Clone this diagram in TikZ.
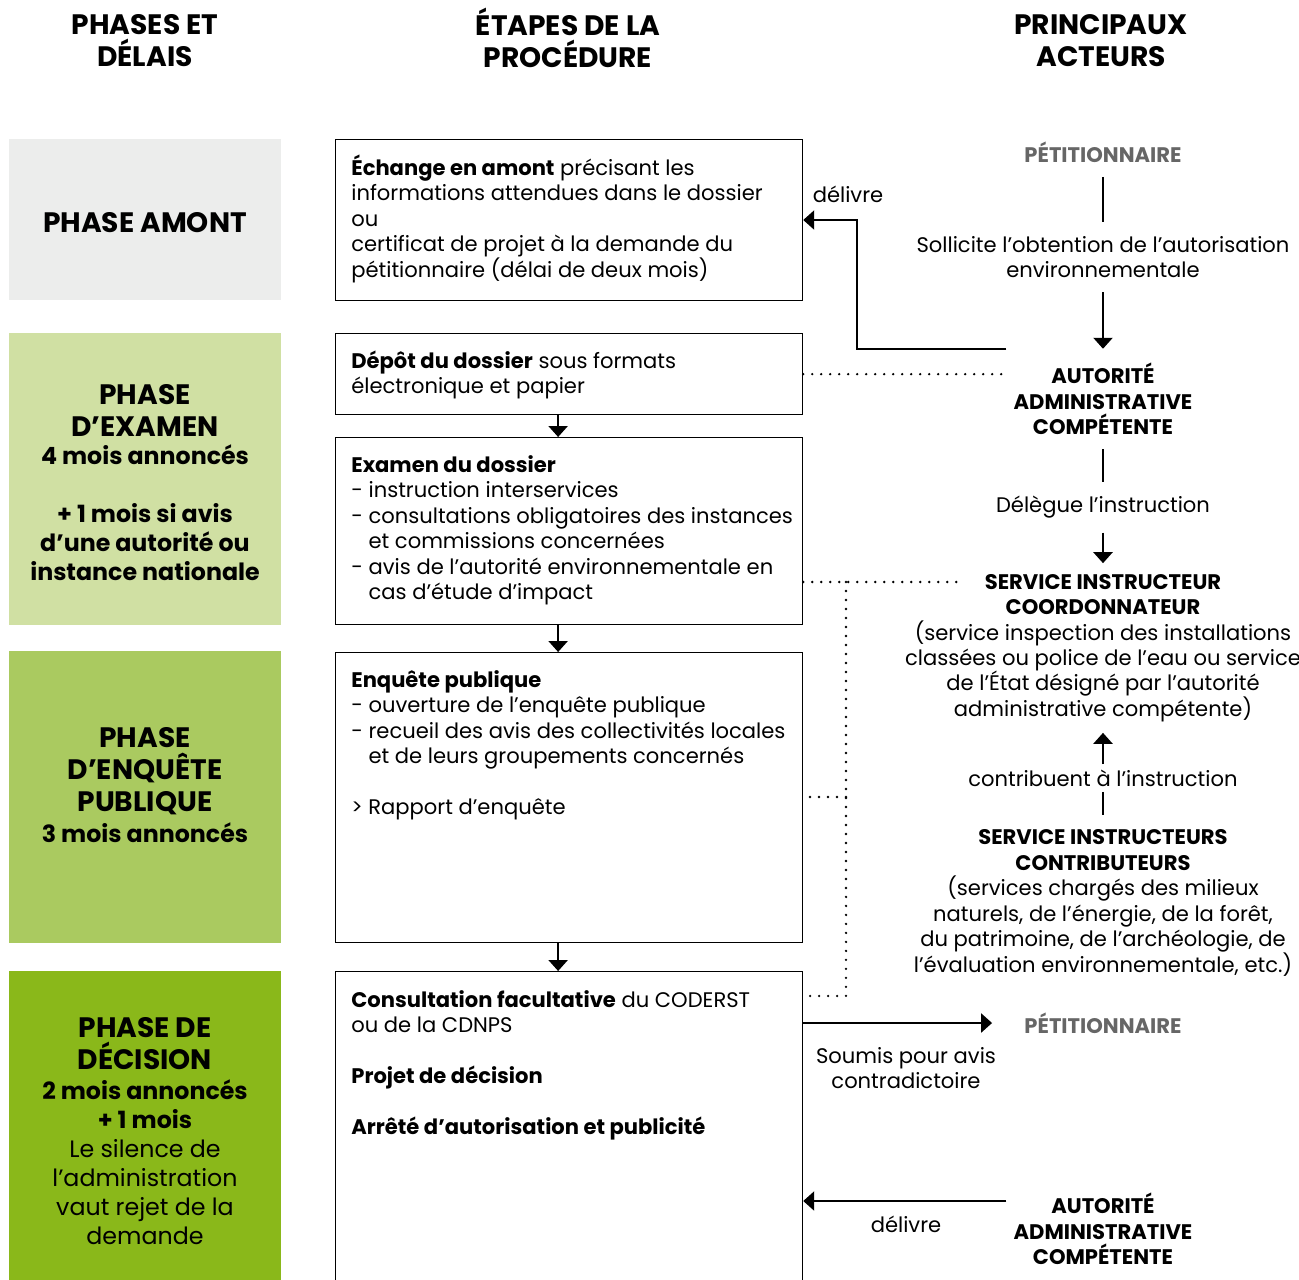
\documentclass[tikz,border=0pt]{standalone}
\usepackage{fontspec}
\setmainfont{Poppins}
\usetikzlibrary{arrows.meta,calc}

\definecolor{amont}{RGB}{236,237,236}
\definecolor{examen}{RGB}{208,224,163}
\definecolor{enquete}{RGB}{170,202,96}
\definecolor{decision}{RGB}{138,184,26}
\definecolor{gris}{RGB}{102,102,102}

\newcommand{\haut}{\rule{0pt}{12pt}}

\begin{document}
\begin{tikzpicture}[x=0.02cm, y=-0.02cm,
	head/.style={font=\fontsize{16}{18.2}\selectfont\bfseries, align=center, inner sep=0pt},
	phase/.style={anchor=north west, minimum width=5.44cm, inner sep=0pt},
	ptitle/.style={font=\fontsize{16}{18.2}\selectfont\bfseries, align=center, inner sep=0pt},
	psub/.style={font=\fontsize{13.5}{16.5}\selectfont, align=center, inner sep=0pt},
	psubgras/.style={font=\fontsize{13.5}{16.5}\selectfont\bfseries, align=center, inner sep=0pt},
	etape/.style={draw, line width=0.75pt, anchor=north west, minimum width=9.34cm, inner sep=0pt},
	txt/.style={font=\fontsize{12}{14.5}\selectfont, align=left, anchor=north west, inner sep=0pt},
	acteur/.style={font=\fontsize{12}{14.5}\selectfont, align=center, inner xsep=4pt, inner ysep=8pt},
	acteurgras/.style={font=\fontsize{12}{14.5}\selectfont\bfseries, align=center, inner xsep=4pt, inner ysep=8pt},
	fleche/.style={line width=1.4pt, -{Triangle[length=0.22cm, width=0.38cm]}},
	trait/.style={line width=1.4pt},
	pointille/.style={line width=1.5pt, line cap=round, dash pattern=on 0pt off 0.18cm},
	]
	\useasboundingbox (0,0) rectangle (1299,1279);

	% en-tetes des colonnes
	\node[head] (h1) at (145,41) {PHASES ET\\ DÉLAIS};
	\node[head] (h2) at (568,38) {ÉTAPES DE LA\\ PROCÉDURE};
	\node[head] (h3) at (1101,41) {PRINCIPAUX\\ ACTEURS};

	% phases
	\node[phase, fill=amont, minimum height=3.22cm] (p1) at (9,139) {};
	\node[phase, fill=examen, minimum height=5.84cm] (p2) at (9,333) {};
	\node[phase, fill=enquete, minimum height=5.84cm] (p3) at (9,651) {};
	\node[phase, fill=decision, minimum height=6.4cm] (p4) at (9,971) {};

	\node[ptitle] (p1-t) at (145,223) {PHASE AMONT};
	\node[ptitle] (p2-t) at (145,410) {PHASE\\ D’EXAMEN};
	\node[psubgras] (p2-s) at (145,513) {4 mois annoncés\\[16.5pt] + 1 mois si avis\\ d’une autorité ou\\ instance nationale};
	\node[ptitle] (p3-t) at (145,771) {PHASE\\ D’ENQUÊTE\\ PUBLIQUE};
	\node[psubgras] (p3-s) at (145,833) {3 mois annoncés};
	\node[ptitle] (p4-t) at (145,1044) {PHASE DE\\ DÉCISION};
	\node[psub] (p4-s) at (145,1162) {\textbf{2 mois annoncés}\\ \textbf{+ 1 mois}\\ Le silence de\\ l’administration\\ vaut rejet de la\\ demande};

	% etapes de la procedure
	\node[etape, minimum height=3.22cm] (echange) at (335,139) {};
	\node[etape, minimum height=1.62cm] (depot) at (335,333) {};
	\node[etape, minimum height=3.74cm] (examen) at (335,437) {};
	\node[etape, minimum height=5.8cm] (enquete) at (335,652) {};
	\node[etape, minimum height=6.4cm] (consult) at (335,971) {};

	\node[txt] (echange-t) at (351,154) {\haut\textbf{Échange en amont} précisant les\\ informations attendues dans le dossier\\ ou\\ certificat de projet à la demande du\\ pétitionnaire (délai de deux mois)};
	\node[txt] (depot-t) at (351,347) {\haut\textbf{Dépôt du dossier} sous formats\\ électronique et papier};
	\node[txt] (examen-t) at (351,451) {\haut\textbf{Examen du dossier}\\ - instruction interservices\\ - consultations obligatoires des instances\\ \phantom{- }et commissions concernées\\ - avis de l’autorité environnementale en\\ \phantom{- }cas d’étude d’impact};
	\node[txt] (enquete-t) at (351,666) {\haut\textbf{Enquête publique}\\ - ouverture de l’enquête publique\\ - recueil des avis des collectivités locales\\ \phantom{- }et de leurs groupements concernés\\[14.5pt] > Rapport d’enquête};
	\node[txt] (consult-t) at (351,986) {\haut\textbf{Consultation facultative} du CODERST\\ ou de la CDNPS\\[14.5pt] \textbf{Projet de décision}\\[14.5pt] \textbf{Arrêté d’autorisation et publicité}};

	\draw[fleche] ([xshift=-0.22cm]depot.south) -- ([xshift=-0.22cm]examen.north);
	\draw[fleche] ([xshift=-0.22cm]examen.south) -- ([xshift=-0.22cm]enquete.north);
	\draw[fleche] ([xshift=-0.22cm]enquete.south) -- ([xshift=-0.22cm]consult.north);

	% acteurs
	\node[acteurgras, text=gris] (pet1) at (1103,152) {PÉTITIONNAIRE};
	\node[acteur] (sollicite) at (1103,257) {Sollicite l’obtention de l’autorisation\\ environnementale};
	\node[acteurgras] (auto1) at (1103,399) {AUTORITÉ\\ ADMINISTRATIVE\\ COMPÉTENTE};
	\node[acteur] (delegue) at (1103,507) {Délègue l’instruction};
	\node[acteur, inner ysep=6pt] (sic) at (1103,648) {\textbf{SERVICE INSTRUCTEUR}\\ \textbf{COORDONNATEUR}\\ (service inspection des installations\\ classées ou police de l’eau ou service\\ de l’État désigné par l’autorité\\ administrative compétente)};
	\node[acteur, inner ysep=3pt] (contrib) at (1103,778) {contribuent à l’instruction};
	\node[acteur] (sic2) at (1103,903) {\textbf{SERVICE INSTRUCTEURS}\\ \textbf{CONTRIBUTEURS}\\ (services chargés des milieux\\ naturels, de l’énergie, de la forêt,\\ du patrimoine, de l’archéologie, de\\ l’évaluation environnementale, etc.)};
	\node[acteurgras, text=gris] (pet2) at (1103,1023) {PÉTITIONNAIRE};
	\node[acteur] (soumis) at (906,1068) {Soumis pour avis\\ contradictoire};
	\node[acteurgras] (auto2) at (1103,1229) {AUTORITÉ\\ ADMINISTRATIVE\\ COMPÉTENTE};
	\node[acteur] (delivre1) at (848,194) {délivre};
	\node[acteur] (delivre2) at (906,1224) {délivre};

	\draw[trait] (pet1) -- (sollicite);
	\draw[fleche] (sollicite) -- (auto1);
	\draw[trait] (auto1) -- (delegue);
	\draw[fleche] (delegue) -- (sic);
	\draw[fleche] (contrib) -- (sic);
	\draw[trait] (contrib) -- (sic2);

	\coordinate (coude) at (857,220);
	\draw[fleche] (auto1.north west) -| (coude) -- (coude -| echange.east);
	\draw[fleche] (consult.east |- pet2) -- ([xshift=-0.5cm]pet2.west);
	\coordinate (a2) at ($(auto2.west)+(0,-28)$);
	\draw[fleche] (a2) -- (a2 -| consult.east);

	% liens en pointilles
	\coordinate (fin) at (960,582);
	\coordinate (rail) at (846,582);
	\coordinate (mi) at (846,797);
	\coordinate (bas) at (846,996);
	\draw[pointille] (depot.east) -- (depot.east -| auto1.west);
	\draw[pointille] (fin -| examen.east) -- (fin);
	\draw[pointille] (rail) -- (bas) -- (bas -| consult.east);
	\draw[pointille] (mi) -- (mi -| enquete.east);
\end{tikzpicture}
\end{document}
